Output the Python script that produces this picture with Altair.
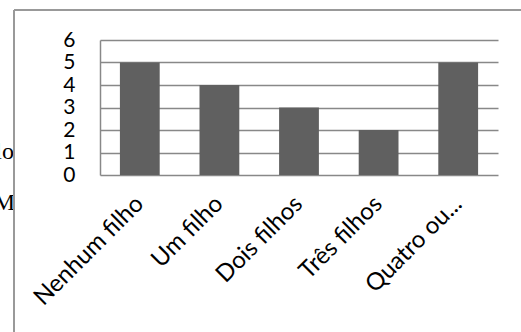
import altair as alt
import pandas as pd

categories = ["Nenhum filho", "Um filho", "Dois filhos", "Três filhos", "Quatro ou..."]
values = [5, 4, 3, 2, 5]
y_ticks = [0, 1, 2, 3, 4, 5, 6]
side_texts = ["lo", "M"]

df = pd.DataFrame({"cat": categories, "val": values})
one = pd.DataFrame({"k": [0]})

bars = alt.Chart(df).mark_bar(color="#606060").encode(
    x=alt.X(
        "cat:N",
        sort=categories,
        scale=alt.Scale(paddingInner=0.5, paddingOuter=0.25),
        axis=alt.Axis(
            title=None, labelAngle=-45, labelFontSize=24, labelFont="Lato",
            labelColor="black", domain=False, ticks=False, labelPadding=25,
            labelAlign="right", labelBaseline="middle",
        ),
    ),
    y=alt.Y(
        "val:Q",
        scale=alt.Scale(domain=[0, 6], nice=False),
        axis=alt.Axis(
            values=y_ticks, title=None, grid=True, gridColor="#888888", gridWidth=1.5,
            domainColor="#888888", domainWidth=1.5, ticks=False, labelPadding=25,
            labelFontSize=21, labelFont="Lato", labelColor="black",
        ),
    ),
)

frame_left = alt.Chart(one).mark_rule(color="#999999", strokeWidth=2).encode(
    x=alt.value(-86), y=alt.value(-30), y2=alt.value(292)
)
frame_top = alt.Chart(one).mark_rule(color="#999999", strokeWidth=2).encode(
    x=alt.value(-86), x2=alt.value(421), y=alt.value(-30)
)

t1 = alt.Chart(one).mark_text(
    font="Liberation Serif", align="right", baseline="middle", color="black"
).encode(x=alt.value(-86), y=alt.value(112), text=alt.value(side_texts[0]), size=alt.value(24))
t2 = alt.Chart(one).mark_text(
    font="Liberation Serif", align="right", baseline="middle", color="black"
).encode(x=alt.value(-85), y=alt.value(163), text=alt.value(side_texts[1]), size=alt.value(24))

chart = alt.layer(t1, t2, bars, frame_left, frame_top).properties(
    width=398, height=135,
    autosize=alt.AutoSizeParams(type="none"),
    padding={"left": 100, "top": 40, "right": 23, "bottom": 157},
    background="white",
).configure_view(stroke=None)

chart.save("out.html", embed_options={"renderer": "svg", "actions": False})
